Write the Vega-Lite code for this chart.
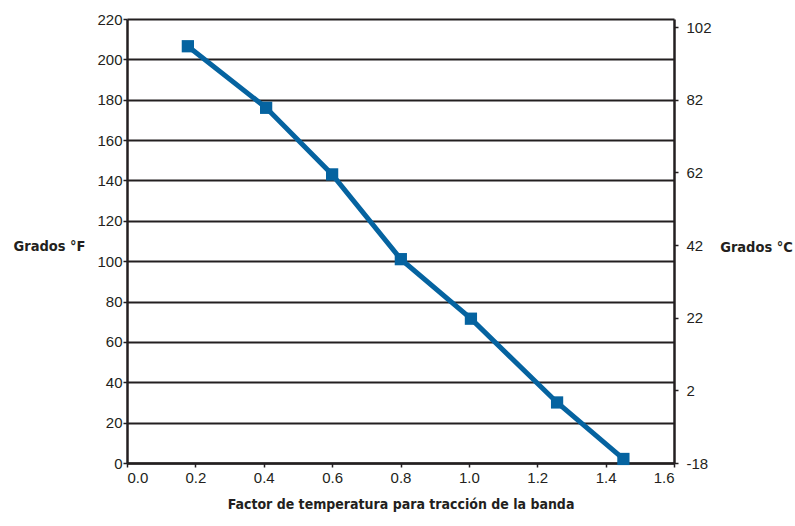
{
  "$schema": "https://vega.github.io/schema/vega-lite/v6.json",
  "width": 547,
  "height": 444,
  "autosize": "none",
  "padding": {"left": 127, "top": 19, "right": 121, "bottom": 63},
  "background": "white",
  "config": {"view": {"stroke": null}, "font": "Liberation Sans"},
  "data": {
    "values": [
      {"factor": 0.178, "F": 206.5, "C": 96.94},
      {"factor": 0.407, "F": 176, "C": 80.0},
      {"factor": 0.6, "F": 143, "C": 61.67},
      {"factor": 0.801, "F": 101, "C": 38.33},
      {"factor": 1.006, "F": 71.5, "C": 21.94},
      {"factor": 1.258, "F": 30, "C": -1.11},
      {"factor": 1.452, "F": 2, "C": -16.67}
    ]
  },
  "layer": [
    {
      "mark": {
        "type": "line",
        "color": "#0563a0",
        "strokeWidth": 5,
        "point": {"shape": "square", "size": 150, "filled": true, "fill": "#0563a0", "opacity": 1}
      },
      "encoding": {
        "x": {
          "field": "factor",
          "type": "quantitative",
          "scale": {"domain": [0, 1.6], "nice": false},
          "axis": {
            "values": [0, 0.2, 0.4, 0.6, 0.8, 1.0, 1.2, 1.4, 1.6],
            "format": ".1f",
            "grid": false,
            "domainColor": "#231f20",
            "domainWidth": 2.5,
            "tickColor": "#231f20",
            "tickSize": 4,
            "tickWidth": 1.5,
            "labelFont": "Liberation Sans",
            "labelFontSize": 15,
            "labelColor": "#231f20",
            "labelPadding": 3,
            "title": "Factor de temperatura para tracción de la banda",
            "titleFont": "DejaVu Sans Condensed",
            "titleFontWeight": "bold",
            "titleFontSize": 14,
            "titleColor": "#231f20",
            "titlePadding": 12
          }
        },
        "y": {
          "field": "F",
          "type": "quantitative",
          "scale": {"domain": [0, 220], "nice": false},
          "axis": {
            "values": [0, 20, 40, 60, 80, 100, 120, 140, 160, 180, 200, 220],
            "grid": true,
            "gridColor": "#231f20",
            "gridWidth": 1.8,
            "gridOpacity": 1,
            "domainColor": "#231f20",
            "domainWidth": 2.5,
            "tickColor": "#231f20",
            "tickSize": 4,
            "tickWidth": 1.5,
            "labelFont": "Liberation Sans",
            "labelFontSize": 15,
            "labelColor": "#231f20",
            "labelPadding": 1,
            "title": "Grados °F",
            "titleAngle": 0,
            "titleX": -78,
            "titleY": 227,
            "titleAlign": "center",
            "titleBaseline": "middle",
            "titleFont": "DejaVu Sans Condensed",
            "titleFontWeight": "bold",
            "titleFontSize": 14.5,
            "titleColor": "#231f20"
          }
        }
      }
    },
    {
      "mark": {"type": "point", "opacity": 0},
      "encoding": {
        "x": {"field": "factor", "type": "quantitative"},
        "y": {
          "field": "C",
          "type": "quantitative",
          "scale": {"domain": [-18, 104.22], "nice": false, "zero": false},
          "axis": {
            "orient": "right",
            "values": [-18, 2, 22, 42, 62, 82, 102],
            "labelExpr": "'' + datum.value",
            "grid": false,
            "domainColor": "#231f20",
            "domainWidth": 2.5,
            "tickColor": "#231f20",
            "tickSize": 4,
            "tickWidth": 1.5,
            "labelFont": "Liberation Sans",
            "labelFontSize": 15,
            "labelColor": "#231f20",
            "labelPadding": 8,
            "title": "Grados °C",
            "titleAngle": 0,
            "titleX": 82,
            "titleY": 228,
            "titleAlign": "center",
            "titleBaseline": "middle",
            "titleFont": "DejaVu Sans Condensed",
            "titleFontWeight": "bold",
            "titleFontSize": 14.5,
            "titleColor": "#231f20"
          }
        }
      }
    }
  ],
  "resolve": {"scale": {"y": "independent"}}
}
